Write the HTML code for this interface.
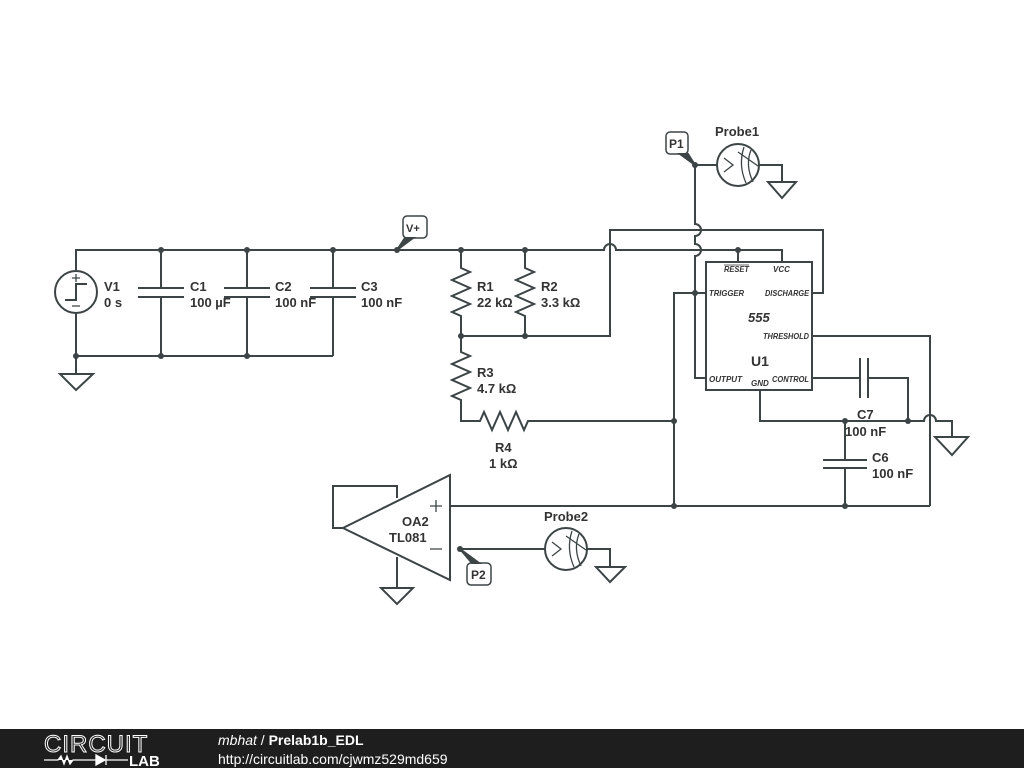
<!DOCTYPE html>
<html><head><meta charset="utf-8"><style>
html,body{margin:0;padding:0;background:#fff;width:1024px;height:768px;overflow:hidden}
svg{display:block}
text{font-family:"Liberation Sans",sans-serif;fill:#333}
.l{fill:none;stroke:#3d4446;stroke-width:2;stroke-linejoin:miter}
.d{fill:#3d4446}
.b{font-size:13px;font-weight:bold}
.i{font-size:8px;font-style:italic;font-weight:bold}
</style></head><body>
<svg width="1024" height="768" viewBox="0 0 1024 768">
<g class="l">
<path d="M76,271 V250 H604 a6,6 0 0 1 12,0 H782 V262"/>
<path d="M738,250 V262"/>
<circle cx="76" cy="292" r="21"/>
<path d="M76,313 V374"/>
<path d="M65,300 H76 V284 H87"/>
<path d="M72,278 h8 M76,274 v8 M72,306 h8" stroke-width="1.3"/>
<path d="M60,374 H93 L76,390 Z"/>
<path d="M76,356 H333"/>
<path d="M161,250 V288 M161,297 V356 M138,288 H184 M138,297 H184"/>
<path d="M247,250 V288 M247,297 V356 M224,288 H270 M224,297 H270"/>
<path d="M333,250 V288 M333,297 V356 M310,288 H356 M310,297 H356"/>
<path d="M461,250 V268 l9,4 -18,8 18,8 -18,8 18,8 -18,8 9,4 V336"/>
<path d="M461,336 V352 l9,4 -18,8 18,8 -18,8 18,8 -18,8 9,4 V421 H480 l4,-9 8,18 8,-18 8,18 8,-18 8,18 4,-9 H674"/>
<path d="M525,250 V268 l9,4 -18,8 18,8 -18,8 18,8 -18,8 9,4 V336"/>
<path d="M461,336 H610 V230 H823 V293 H812"/>
<path d="M695,165 V224 a6,6 0 0 1 0,12 V244 a6,6 0 0 1 0,12 V378 H706"/>
<path d="M674,506 V293 H706"/>
<path d="M695,165 H717 M759,165 H782 V182"/>
<circle cx="738" cy="165" r="21"/>
<path d="M768,182 H796 L782,198 Z"/>
<rect x="706" y="262" width="106" height="128"/>
<path d="M812,336 H930 V506"/>
<path d="M812,378 H860 M860,358 V398 M868,358 V398 M868,378 H908 V421"/>
<path d="M760,390 V421 H924 a6,6 0 0 1 12,0 H952 V437"/>
<path d="M935,437 H968 L952,455 Z"/>
<path d="M845,421 V460 M845,468 V506 M823,460 H867 M823,468 H867"/>
<path d="M450,506 H930"/>
<path d="M450,475 V580 L343,528 Z"/>
<path d="M343,528 H333 V486 H397 V498"/>
<path d="M397,557 V588 M381,588 H413 L397,604 Z"/>
<path d="M430,506 h12 M436,500 v12 M430,549 h12" stroke-width="1.3"/>
<path d="M460,549 H545 M587,549 H610 V567 M596,567 H625 L610,582 Z"/>
<circle cx="566" cy="549" r="21"/>
</g>
<g fill="none" stroke="#3d4446" stroke-width="1.3">
<path d="M724,158 l9,7 -9,7 M744,147 q-6,18 2,36 M751,150 q-6,15 2,32 M738,152 l20,14"/>
<path d="M552,542 l9,7 -9,7 M572,531 q-6,18 2,36 M579,534 q-6,15 2,32 M566,536 l20,14"/>
</g>
<g class="d">
<circle cx="161" cy="250" r="3"/><circle cx="247" cy="250" r="3"/><circle cx="333" cy="250" r="3"/>
<circle cx="76" cy="356" r="3"/><circle cx="161" cy="356" r="3"/><circle cx="247" cy="356" r="3"/>
<circle cx="397" cy="250" r="3"/><circle cx="461" cy="250" r="3"/><circle cx="525" cy="250" r="3"/>
<circle cx="461" cy="336" r="3"/><circle cx="525" cy="336" r="3"/><circle cx="738" cy="250" r="3"/>
<circle cx="695" cy="165" r="3"/><circle cx="695" cy="293" r="3"/><circle cx="674" cy="421" r="3"/>
<circle cx="674" cy="506" r="3"/><circle cx="845" cy="506" r="3"/><circle cx="845" cy="421" r="3"/>
<circle cx="908" cy="421" r="3"/><circle cx="460" cy="549" r="3"/>
</g>
<g fill="#fff" stroke="#3d4446" stroke-width="1.5">
<rect x="403" y="216" width="24" height="22" rx="4"/>
<rect x="666" y="132" width="22" height="22" rx="4"/>
<rect x="467" y="563" width="24" height="22" rx="4"/>
</g>
<path d="M397,250 L405,238 L413,238 Z M695,165 L680,154 L688,154 Z M460,549 L472,563 L479,563 Z" fill="#3d4446" stroke="#3d4446" stroke-width="2"/>
<text x="406" y="232" font-size="11" font-weight="bold">V+</text>
<text x="669" y="148" font-size="12" font-weight="bold">P1</text>
<text x="471" y="579" font-size="12" font-weight="bold">P2</text>
<g class="b">
<text x="104" y="291">V1</text><text x="104" y="307">0 s</text>
<text x="190" y="291">C1</text><text x="190" y="307">100 µF</text>
<text x="275" y="291">C2</text><text x="275" y="307">100 nF</text>
<text x="361" y="291">C3</text><text x="361" y="307">100 nF</text>
<text x="477" y="291">R1</text><text x="477" y="307">22 kΩ</text>
<text x="541" y="291">R2</text><text x="541" y="307">3.3 kΩ</text>
<text x="477" y="377">R3</text><text x="477" y="393">4.7 kΩ</text>
<text x="495" y="452">R4</text><text x="489" y="468">1 kΩ</text>
<text x="715" y="136">Probe1</text>
<text x="544" y="521">Probe2</text>
<text x="857" y="419">C7</text><text x="845" y="436">100 nF</text>
<text x="872" y="462">C6</text><text x="872" y="478">100 nF</text>
<text x="402" y="526">OA2</text><text x="389" y="542">TL081</text>
<text x="748" y="322" font-style="italic">555</text>
<text x="751" y="366" font-size="14">U1</text>
</g>
<g class="i">
<text x="724" y="272" textLength="25" lengthAdjust="spacingAndGlyphs">RESET</text><path d="M724,265 H749" stroke="#333" stroke-width="0.8"/>
<text x="773" y="272">VCC</text>
<text x="709" y="296" textLength="35" lengthAdjust="spacingAndGlyphs">TRIGGER</text>
<text x="765" y="296" textLength="44" lengthAdjust="spacingAndGlyphs">DISCHARGE</text>
<text x="763" y="339" textLength="46" lengthAdjust="spacingAndGlyphs">THRESHOLD</text>
<text x="709" y="382" textLength="33" lengthAdjust="spacingAndGlyphs">OUTPUT</text>
<text x="751" y="386">GND</text>
<text x="772" y="382" textLength="37" lengthAdjust="spacingAndGlyphs">CONTROL</text>
</g>
<rect x="0" y="729" width="1024" height="39" fill="#1e1e1e"/>
<text x="44" y="752" font-size="24" style="fill:none;stroke:#fff;stroke-width:1" letter-spacing="1">CIRCUIT</text>
<path d="M44,760 H58 l3,-4 3,8 3,-8 3,8 3,-4 H96 M96,755 v10 l9,-5 z M106,755 v10 M106,760 H128" stroke="#fff" stroke-width="1.3" fill="#fff"/>
<text x="129" y="766" font-size="15" font-weight="bold" style="fill:#fff">LAB</text>
<text x="218" y="745" font-size="14" style="fill:#fff" font-family="DejaVu Sans"><tspan font-style="italic">mbhat</tspan> / <tspan font-weight="bold">Prelab1b_EDL</tspan></text>
<text x="218" y="764" font-size="14" style="fill:#fff" font-family="DejaVu Sans">http://circuitlab.com/cjwmz529md659</text>
</svg>
</body></html>
